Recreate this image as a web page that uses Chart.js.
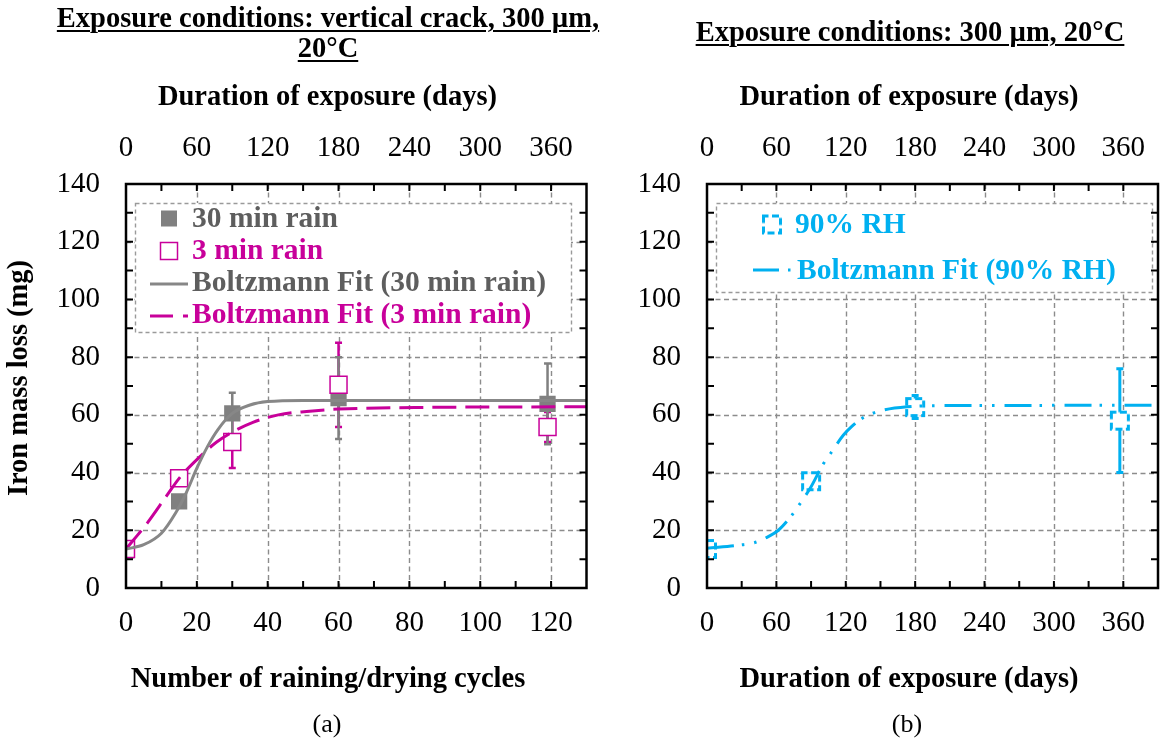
<!DOCTYPE html>
<html><head><meta charset="utf-8">
<script src="https://cdn.jsdelivr.net/npm/chart.js@4.4.1/dist/chart.umd.min.js"></script>
<style>
html,body{margin:0;padding:0;background:#fff;}
#wrap{position:relative;width:1171px;height:738px;overflow:hidden;font-family:'Liberation Serif',serif;background:#fff;}
canvas{position:absolute;top:0;}
.t{position:absolute;text-align:center;white-space:nowrap;color:#000;font-weight:bold;font-size:28.5px;line-height:30px;width:600px;}
.u{text-decoration:underline;text-underline-offset:3px;text-decoration-thickness:2px;}
.cap{position:absolute;text-align:center;font-size:26px;line-height:30px;width:200px;color:#000;}
</style></head>
<body><div id="wrap">
<canvas id="c1" width="600" height="738" style="left:0"></canvas>
<canvas id="c2" width="571" height="738" style="left:600px"></canvas>
<div class="t u" style="left:28px;top:2.5px;">Exposure conditions: vertical crack, 300 µm,<br>20°C</div>
<div class="t u" style="left:610px;top:17px;">Exposure conditions: 300 µm, 20°C</div>
<div class="t" style="left:27.5px;top:81px;">Duration of exposure (days)</div>
<div class="t" style="left:609px;top:81px;">Duration of exposure (days)</div>
<div class="t" style="left:28px;top:663px;">Number of raining/drying cycles</div>
<div class="t" style="left:609px;top:663px;">Duration of exposure (days)</div>
<div class="t" style="left:-282px;top:362.5px;transform:rotate(-90deg);">Iron mass loss (mg)</div>
<div class="cap" style="left:227px;top:709px;">(a)</div>
<div class="cap" style="left:807px;top:709px;">(b)</div>
</div>
<script>
// ---------- tick values ----------
const cyclesTicks = [0, 20, 40, 60, 80, 100, 120];
const daysTicks = [0, 60, 120, 180, 240, 300, 360];
const massTicks = [0, 20, 40, 60, 80, 100, 120, 140];
const cyclesGrid = [20, 40, 60, 80, 100, 120];
const daysGrid = [60, 120, 180, 240, 300, 360];
const massGrid = [20, 40, 60, 80, 100, 120];
const cyclesMinor = [10, 20, 30, 40, 50, 60, 70, 80, 90, 100, 110, 120];
const daysMinor = [30, 60, 90, 120, 150, 180, 210, 240, 270, 300, 330, 360];
const massMinor = [10, 20, 30, 40, 50, 60, 70, 80, 90, 100, 110, 120, 130];

// ---------- panel (a) ----------
const cycles30 = [0, 15, 30, 60, 119];
const mass30 = [13, 30, 60.5, 65.8, 63.8];
const err30 = [0, 0, 7.2, 14.2, 14];
const cycles3 = [0, 15, 30, 60, 119];
const mass3 = [13.5, 38, 50.6, 70.4, 55.8];
const err3 = [0, 0, 9, 14.6, 5.2];
const fitCycles30 = [0, 5, 10, 14, 17, 20, 23, 26, 30, 35, 40, 50, 130];
const fitMass30 = [13.5, 15, 19, 26, 33, 41.5, 49, 55, 60.5, 63.4, 64.6, 65, 65];
const fitCycles3 = [0, 6, 11.5, 15, 20, 25.5, 30, 36, 43, 51, 60, 87, 130];
const fitMass3 = [13.5, 22.5, 32, 38, 44.5, 50.5, 54, 57.5, 60, 61.2, 62, 62.6, 62.8];

// ---------- panel (b) ----------
const daysRH = [0, 90, 180, 357];
const massRH = [13.5, 37, 62.7, 58];
const errRH = [0, 0, 4, 18];
const fitDaysRH = [0, 29, 41, 53, 62, 73, 79, 90, 100, 107, 118, 125, 133, 143, 153, 173, 200, 390];
const fitMassRH = [13.8, 14.9, 15.7, 17.8, 20.1, 25, 28.4, 35.1, 42.6, 46.7, 53, 55.9, 58.5, 60.5, 61.7, 62.8, 63.2, 63.3];

const GRAY = '#808080', GRAYLINE = '#878787', GRAYTEXT = '#5e5e5e', PINK = '#C8009A', CYAN = '#00B0F0';

Chart.defaults.font.family = "'Liberation Serif', serif";
Chart.defaults.color = '#000';

const pts = (xs, ys) => xs.map((x, i) => ({x: x, y: ys[i]}));

function dashedSquare(color) {
  const c = document.createElement('canvas');
  c.width = 24; c.height = 24;
  const g = c.getContext('2d');
  g.fillStyle = '#fff';
  g.fillRect(3.5, 3.5, 17, 17);
  g.strokeStyle = color; g.lineWidth = 3;
  g.setLineDash([7, 3.5]);
  g.lineDashOffset = 2;
  g.strokeRect(3.5, 3.5, 17, 17);
  return c;
}
const cyanMarker = dashedSquare(CYAN);

const decor = {
  id: 'decor',
  beforeDatasetsDraw(chart, args, o) {
    const {ctx, chartArea: a, scales} = chart;
    const sx = scales.x, sy = scales.y;
    ctx.save();
    ctx.strokeStyle = '#8c8c8c'; ctx.lineWidth = 1.4; ctx.setLineDash([5, 3.5]);
    ctx.beginPath();
    o.gridX.forEach(v => { const p = Math.round(sx.getPixelForValue(v)) + 0.5; ctx.moveTo(p, a.top); ctx.lineTo(p, a.bottom); });
    o.gridY.forEach(v => { const p = Math.round(sy.getPixelForValue(v)) + 0.5; ctx.moveTo(a.left, p); ctx.lineTo(a.right, p); });
    ctx.stroke();
    ctx.setLineDash([]);
    chart.data.datasets.forEach(ds => {
      if (!ds.errors) return;
      ctx.strokeStyle = ds.errorColor; ctx.lineWidth = ds.errorWidth;
      ds.data.forEach((pt, i) => {
        const e = ds.errors[i]; if (!e) return;
        const x = sx.getPixelForValue(pt.x);
        const y1 = sy.getPixelForValue(pt.y - e), y2 = sy.getPixelForValue(pt.y + e);
        ctx.beginPath();
        ctx.moveTo(x, y1); ctx.lineTo(x, y2);
        ctx.moveTo(x - 3.5, y1); ctx.lineTo(x + 3.5, y1);
        ctx.moveTo(x - 3.5, y2); ctx.lineTo(x + 3.5, y2);
        ctx.stroke();
      });
    });
    ctx.restore();
  },
  afterDatasetsDraw(chart, args, o) {
    const {ctx, chartArea: a, scales} = chart;
    const sx = scales.x, sy = scales.y, sx2 = scales.x2;
    ctx.save();
    // legend
    const L = o.legend;
    ctx.fillStyle = '#fff';
    ctx.fillRect(L.box[0], L.box[1], L.box[2] - L.box[0], L.box[3] - L.box[1]);
    ctx.strokeStyle = '#9a9a9a'; ctx.lineWidth = 1.4; ctx.setLineDash([4, 3]);
    ctx.strokeRect(L.box[0] + 0.5, L.box[1] + 0.5, L.box[2] - L.box[0], L.box[3] - L.box[1]);
    ctx.setLineDash([]);
    L.items.forEach(it => {
      const ds = chart.data.datasets[it.ds];
      if (it.kind === 'fill') {
        ctx.fillStyle = ds.backgroundColor;
        ctx.fillRect(it.x - 8, it.y - 8, 16, 16);
      } else if (it.kind === 'open') {
        ctx.fillStyle = '#fff'; ctx.strokeStyle = ds.borderColor; ctx.lineWidth = ds.borderWidth;
        ctx.fillRect(it.x - 8.5, it.y - 8.5, 17, 17);
        ctx.strokeRect(it.x - 8.5, it.y - 8.5, 17, 17);
      } else if (it.kind === 'image') {
        const im = ds.pointStyle;
        ctx.drawImage(im, it.x - im.width / 2, it.y - im.height / 2);
      } else if (it.kind === 'line') {
        ctx.strokeStyle = ds.borderColor; ctx.lineWidth = ds.borderWidth;
        ctx.setLineDash(it.dash || []);
        ctx.beginPath(); ctx.moveTo(it.x, it.y); ctx.lineTo(it.x2, it.y); ctx.stroke();
        ctx.setLineDash([]);
      }
      ctx.font = "bold 29.5px 'Liberation Serif', serif";
      ctx.fillStyle = it.color; ctx.textBaseline = 'middle'; ctx.textAlign = 'left';
      ctx.fillText(ds.label, it.tx, it.ty);
    });
    // minor inward ticks
    ctx.strokeStyle = '#000'; ctx.lineWidth = 2;
    ctx.beginPath();
    o.minorX.forEach(v => { const p = sx.getPixelForValue(v); ctx.moveTo(p, a.bottom); ctx.lineTo(p, a.bottom - 7); });
    o.minorXTop.forEach(v => { const p = sx2.getPixelForValue(v); ctx.moveTo(p, a.top); ctx.lineTo(p, a.top + 7); });
    o.minorY.forEach(v => {
      const p = sy.getPixelForValue(v);
      ctx.moveTo(a.left, p); ctx.lineTo(a.left + 7, p);
      ctx.moveTo(a.right, p); ctx.lineTo(a.right - 7, p);
    });
    ctx.stroke();
    // frame
    ctx.lineWidth = 2.5;
    ctx.strokeRect(a.left, a.top, a.right - a.left, a.bottom - a.top);
    ctx.restore();
  }
};

function xAxis(pos, max, ticks, h) {
  return {
    type: 'linear', position: pos, min: 0, max: max,
    grid: {display: false, drawTicks: false}, border: {display: false},
    ticks: {font: {size: 29}, padding: 18, autoSkip: false, maxRotation: 0, color: '#000'},
    afterBuildTicks: s => { s.ticks = ticks.map(v => ({value: v})); },
    afterFit: s => { s.height = h; }
  };
}
function yAxis(w) {
  return {
    type: 'linear', position: 'left', min: 0, max: 140,
    grid: {display: false, drawTicks: false}, border: {display: false},
    ticks: {font: {size: 29}, padding: 26, autoSkip: false, color: '#000'},
    afterBuildTicks: s => { s.ticks = massTicks.map(v => ({value: v})); },
    afterFit: s => { s.width = w; }
  };
}

new Chart(document.getElementById('c1'), {
  type: 'scatter',
  data: {datasets: [
    {label: 'Boltzmann Fit (30 min rain)', data: pts(fitCycles30, fitMass30), showLine: true, pointRadius: 0,
     borderColor: GRAYLINE, borderWidth: 3, cubicInterpolationMode: 'monotone'},
    {label: 'Boltzmann Fit (3 min rain)', data: pts(fitCycles3, fitMass3), showLine: true, pointRadius: 0,
     borderColor: PINK, borderWidth: 3, borderDash: [24, 9], cubicInterpolationMode: 'monotone'},
    {label: '3 min rain', data: pts(cycles3, mass3), pointStyle: 'rect', pointRadius: 12, borderWidth: 1.5,
     borderColor: PINK, backgroundColor: '#fff', errors: err3, errorColor: PINK, errorWidth: 2.5},
    {label: '30 min rain', data: pts(cycles30, mass30), pointStyle: 'rect', pointRadius: 11.5, borderWidth: 0,
     borderColor: GRAY, backgroundColor: GRAY, errors: err30, errorColor: GRAY, errorWidth: 2.5}
  ]},
  options: {
    responsive: false, animation: false, events: [],
    layout: {padding: {left: 0, right: 13, top: 0, bottom: 0}},
    scales: {x: xAxis('bottom', 130, cyclesTicks, 150), x2: xAxis('top', 390, daysTicks, 184), y: yAxis(126)},
    plugins: {
      legend: {display: false}, title: {display: false}, tooltip: {enabled: false},
      decor: {
        gridX: cyclesGrid, gridY: massGrid, minorX: cyclesMinor, minorXTop: daysMinor, minorY: massMinor,
        legend: {box: [135, 203, 571, 332], items: [
          {ds: 3, kind: 'fill', x: 169, y: 218.5, tx: 192, ty: 219, color: GRAYTEXT},
          {ds: 2, kind: 'open', x: 169, y: 251, tx: 192, ty: 251.5, color: PINK},
          {ds: 0, kind: 'line', x: 150, x2: 188, y: 284, tx: 192, ty: 283.5, color: GRAYTEXT},
          {ds: 1, kind: 'line', x: 150, x2: 188, y: 316, dash: [23, 10], tx: 192, ty: 315.5, color: PINK}
        ]}
      }
    }
  },
  plugins: [decor]
});

new Chart(document.getElementById('c2'), {
  type: 'scatter',
  data: {datasets: [
    {label: 'Boltzmann Fit (90% RH)', data: pts(fitDaysRH, fitMassRH), showLine: true, pointRadius: 0,
     borderColor: CYAN, borderWidth: 3, borderDash: [27, 8, 2.5, 10, 2.5, 10], cubicInterpolationMode: 'monotone'},
    {label: '90% RH', data: pts(daysRH, massRH), pointStyle: cyanMarker, pointRadius: 12,
     borderColor: CYAN, backgroundColor: '#fff', errors: errRH, errorColor: CYAN, errorWidth: 3}
  ]},
  options: {
    responsive: false, animation: false, events: [],
    layout: {padding: {left: 0, right: 3, top: 0, bottom: 0}},
    scales: {x: xAxis('bottom', 390, daysTicks, 150), x2: xAxis('top', 390, daysTicks, 184), y: yAxis(107)},
    plugins: {
      legend: {display: false}, title: {display: false}, tooltip: {enabled: false},
      decor: {
        gridX: daysGrid, gridY: massGrid, minorX: daysMinor, minorXTop: daysMinor, minorY: massMinor,
        legend: {box: [116, 203, 552, 292], items: [
          {ds: 1, kind: 'image', x: 172, y: 224.5, tx: 195, ty: 225, color: CYAN},
          {ds: 0, kind: 'line', x: 153, x2: 191, y: 270, dash: [26, 9, 2.5, 10], tx: 197, ty: 271, color: CYAN}
        ]}
      }
    }
  },
  plugins: [decor]
});
</script>
</body></html>
